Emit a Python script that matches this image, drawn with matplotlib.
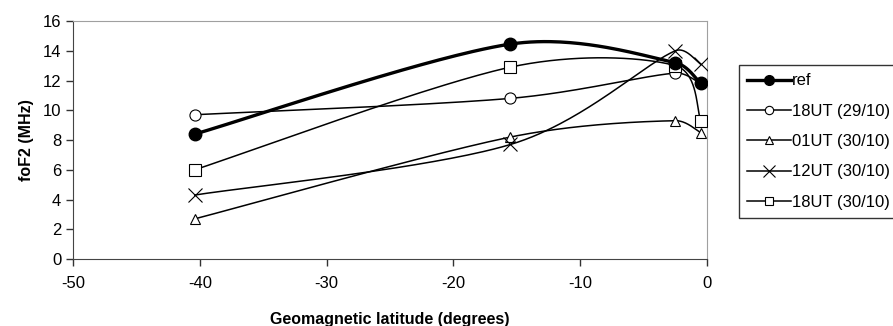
import numpy as np
import matplotlib.pyplot as plt
from matplotlib.lines import Line2D

plt.rcParams['font.family'] = ['Liberation Sans', 'DejaVu Sans']
plt.rcParams['axes.unicode_minus'] = False

# latitudes of the stations (degrees)
lat = [-40.4, -15.5, -2.5, -0.5]

ref = [8.4, 14.45, 13.2, 11.8]
ut18_2910 = [9.7, 10.8, 12.5, 11.8]
ut01_3010 = [2.7, 8.2, 9.3, 8.5]
ut12_3010 = [4.3, 7.7, 14.0, 13.1]
ut18_3010 = [6.0, 12.9, 13.0, 9.3]

labels = ["ref", "18UT (29/10)", "01UT (30/10)", "12UT (30/10)", "18UT (30/10)"]


# excel-like smoothed line: catmull-rom bezier (1/6 rule), control arms
# clamped so short segments don't loop
def smooth(x, y, n=60, clamp=0.4, sx=12.67, sy=14.875):
    p = np.column_stack([np.array(x) * sx, np.array(y) * sy]).astype(float)
    ext = np.vstack([p[0], p, p[-1]])
    m = len(p)
    cin, cout = [], []
    for i in range(m):
        a, b, c = ext[i], ext[i + 1], ext[i + 2]
        v = (c - a) / 6.0
        lv = np.hypot(*v)
        d1 = np.hypot(*(b - a))
        d2 = np.hypot(*(c - b))
        vi = v * min(1.0, clamp * d1 / lv) if lv > 0 else v
        vo = v * min(1.0, clamp * d2 / lv) if lv > 0 else v
        cin.append(b - vi)
        cout.append(b + vo)
    tt = np.linspace(0, 1, n)[:, None]
    out = []
    for i in range(m - 1):
        p0, p1, p2, p3 = p[i], cout[i], cin[i + 1], p[i + 1]
        seg = (1 - tt) ** 3 * p0 + 3 * (1 - tt) ** 2 * tt * p1 + 3 * (1 - tt) * tt ** 2 * p2 + tt ** 3 * p3
        out.append(seg)
    s = np.vstack(out)
    return s[:, 0] / sx, s[:, 1] / sy


fig = plt.figure(figsize=(8.93, 3.26), dpi=100)
ax = fig.add_axes([0.0818, 0.2055, 0.7099, 0.730])

series = [
    (ut18_2910, 'o', 'white', 8, 6),
    (ut01_3010, '^', 'white', 7, 6),
    (ut12_3010, 'x', 'black', 10, 8),
    (ut18_3010, 's', 'white', 8, 6),
]
handles = []
for ys, m, fc, ms, lms in series:
    sx, sy = smooth(lat, ys)
    ax.plot(sx, sy, color='black', lw=1.1, zorder=2)
    ax.plot(lat, ys, ls='none', marker=m, mfc=fc, mec='black', ms=ms, mew=0.8, zorder=3)
    handles.append(Line2D([], [], color='black', lw=1.1, marker=m, mfc=fc, mec='black', ms=lms, mew=0.8))

sx, sy = smooth(lat, ref)
ax.plot(sx, sy, color='black', lw=2.4, zorder=4)
ax.plot(lat, ref, ls='none', marker='o', color='black', ms=9, zorder=5)
handles.insert(0, Line2D([], [], color='black', lw=2.4, marker='o', ms=7))

ax.set_xlim(-50, 0)
ax.set_ylim(0, 16)
ax.set_xticks(range(-50, 1, 10))
ax.set_yticks(range(0, 17, 2))
ax.tick_params(direction='out', length=5, width=1, labelsize=12, colors='#333333', labelcolor='black')
ax.tick_params(axis='x', pad=7)
for s in ['top', 'right']:
    ax.spines[s].set_color('#a0a0a0')
for s in ['left', 'bottom']:
    ax.spines[s].set_color('#444444')

ax.set_xlabel('Geomagnetic latitude (degrees)', fontsize=11.5, fontweight='bold', labelpad=15)
ax.set_ylabel('foF2 (MHz)', fontsize=11.5, fontweight='bold', labelpad=6)

leg = fig.legend(handles, labels, loc='upper left', bbox_to_anchor=(0.8275, 0.8006),
                 fontsize=12, frameon=True, fancybox=False, edgecolor='black',
                 handlelength=2.6, handletextpad=0.1, borderpad=0.5, labelspacing=0.92,
                 borderaxespad=0)
leg.get_frame().set_linewidth(1.0)

fig.savefig('out.png', dpi=100)
